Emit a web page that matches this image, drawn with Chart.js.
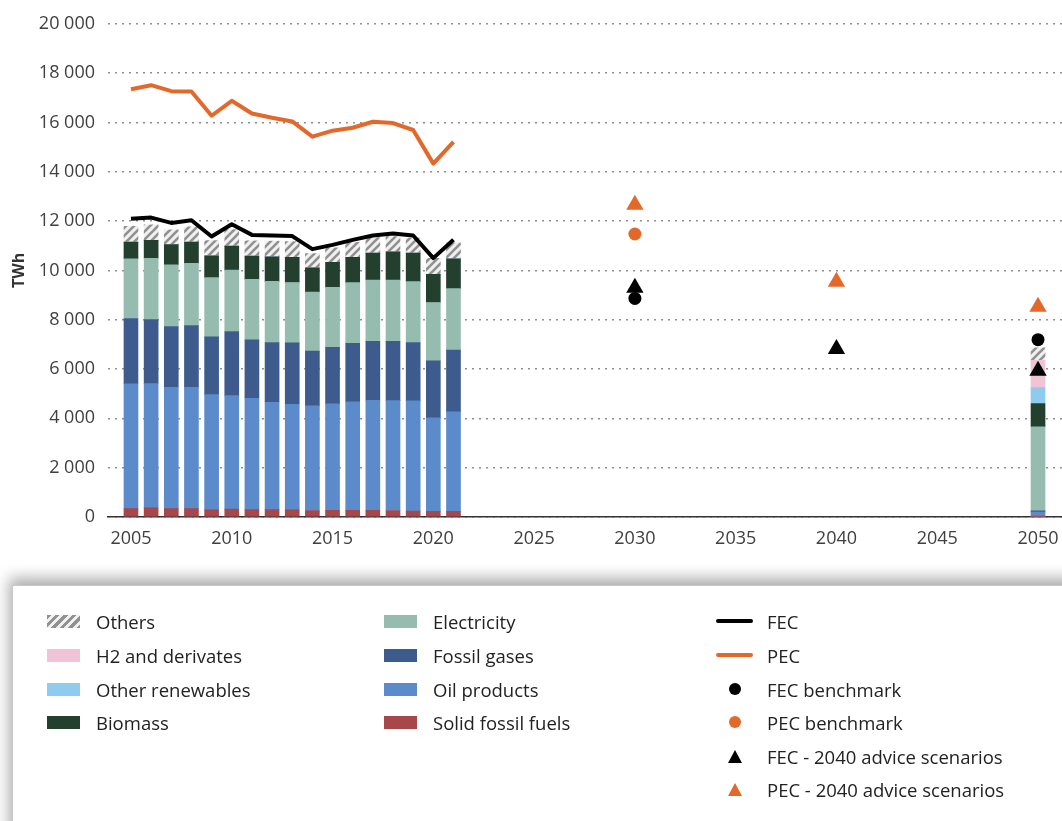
<!DOCTYPE html>
<html>
<head>
<meta charset="utf-8">
<script src="https://cdn.jsdelivr.net/npm/chart.js@4.4.1/dist/chart.umd.min.js"></script>
<style>
  body { margin: 0; width: 1062px; height: 821px; background: #fff; font-family: 'Open Sans', sans-serif; overflow: hidden; position: relative; }
  #chart-wrap { position: absolute; left: 0; top: 0; width: 1062px; height: 560px; }
  #legend { position: absolute; left: 12px; top: 585px; width: 1070px; height: 260px; background: #fff; border: 1px solid #c8c8c8; box-shadow: 0 -4px 14px 3px rgba(0,0,0,0.33); }
  .item { position: absolute; height: 24px; display: flex; align-items: center; font-size: 18.5px; color: #222; white-space: nowrap; }
  .swatch { width: 33px; height: 13px; margin-right: 16px; flex: none; }
  .mark { width: 37px; margin-right: 14px; display: flex; justify-content: center; align-items: center; flex: none; }
  .line { width: 37px; height: 4px; border-radius: 2px; }
  .dot { width: 12px; height: 12px; border-radius: 50%; }
  .tri { width: 0; height: 0; border-left: 7px solid transparent; border-right: 7px solid transparent; border-bottom: 13px solid; }
</style>
</head>
<body>
<div id="chart-wrap"><canvas id="energyChart" width="1062" height="560"></canvas></div>
<div id="legend"></div>
<script>
// --- Data (TWh) ---
const years = [2005, 2006, 2007, 2008, 2009, 2010, 2011, 2012, 2013, 2014, 2015, 2016, 2017, 2018, 2019, 2020, 2021, 2050];
const solidFossil = [340, 370, 340, 340, 303, 320, 300, 300, 290, 263, 275, 275, 275, 263, 242, 230, 230, 10];
const oilProducts = [5060, 5036, 4920, 4920, 4659, 4601, 4515, 4353, 4282, 4242, 4311, 4392, 4460, 4457, 4465, 3790, 4033, 190];
const fossilGases = [2648, 2602, 2465, 2505, 2343, 2602, 2370, 2424, 2492, 2222, 2291, 2371, 2384, 2399, 2370, 2310, 2505, 50];
const electricity = [2425, 2477, 2505, 2518, 2400, 2489, 2451, 2479, 2446, 2398, 2436, 2465, 2491, 2491, 2466, 2369, 2492, 3410];
const biomass = [672, 739, 820, 862, 889, 970, 942, 997, 1020, 984, 1010, 1022, 1090, 1145, 1157, 1139, 1213, 943];
const otherRenewables = [0, 0, 0, 0, 0, 0, 0, 0, 0, 0, 0, 0, 0, 0, 0, 0, 0, 647];
const h2Derivates = [0, 0, 0, 0, 0, 0, 0, 0, 0, 0, 0, 0, 0, 0, 0, 0, 0, 1107];
const others = [645, 622, 594, 620, 618, 675, 622, 632, 640, 578, 594, 618, 633, 619, 606, 647, 645, 500];

const histYears = [2005, 2006, 2007, 2008, 2009, 2010, 2011, 2012, 2013, 2014, 2015, 2016, 2017, 2018, 2019, 2020, 2021];
const fec = [12090, 12141, 11926, 12032, 11374, 11871, 11440, 11414, 11390, 10862, 11036, 11239, 11414, 11495, 11414, 10498, 11239];
const pec = [17349, 17511, 17269, 17253, 16271, 16877, 16364, 16190, 16040, 15422, 15665, 15786, 16028, 15975, 15693, 14331, 15208];

const fecBenchmarkYears = [2030, 2050];
const fecBenchmark = [8865, 7190];
const pecBenchmarkYears = [2030];
const pecBenchmark = [11475];
const adviceYears = [2030, 2040, 2050];
const fecAdvice = [9293, 6816, 5927];
const pecAdvice = [12663, 9535, 8525];

const xTicks = [2005, 2010, 2015, 2020, 2025, 2030, 2035, 2040, 2045, 2050];
const yTicks = [0, 2000, 4000, 6000, 8000, 10000, 12000, 14000, 16000, 18000, 20000];

// --- Colours ---
const C = {
    solid: '#a8474a', oil: '#5b8bcb', gas: '#3d5b8c', elec: '#96bcb0',
    bio: '#233f2e', otherRen: '#8ecbee', h2: '#f0c4d4', fec: '#000000', pec: '#e3692b'
};

function hatchPattern() {
    const c = document.createElement('canvas');
    c.width = 8; c.height = 8;
    const g = c.getContext('2d');
    g.fillStyle = '#f0f0f0';
    g.fillRect(0, 0, 8, 8);
    g.strokeStyle = '#919191';
    g.lineWidth = 2.6;
    g.beginPath();
    g.moveTo(0, 8); g.lineTo(8, 0);
    g.moveTo(-4, 4); g.lineTo(4, -4);
    g.moveTo(4, 12); g.lineTo(12, 4);
    g.stroke();
    return g.createPattern(c, 'repeat');
}

const ctx = document.getElementById('energyChart').getContext('2d');
Chart.defaults.font.family = "'Open Sans', sans-serif";
Chart.defaults.font.size = 18;
Chart.defaults.color = '#404040';

const pts = (xs, ys) => xs.map((x, i) => ({ x: x, y: ys[i] }));

function barSet(label, values, color) {
    return { type: 'bar', label, data: pts(years, values), backgroundColor: color,
             barThickness: 14, grouped: false, order: 2 };
}

function markerSet(label, xs, ys, color, style, stack) {
    return { type: 'scatter', label, data: pts(xs, ys), backgroundColor: color, borderWidth: 0,
             pointStyle: style, pointRadius: style === 'triangle' ? 10 : 6.5, pointHoverRadius: 10,
             stack, order: 0 };
}

const datasets = [
    barSet('Solid fossil fuels', solidFossil, C.solid),
    barSet('Oil products', oilProducts, C.oil),
    barSet('Fossil gases', fossilGases, C.gas),
    barSet('Electricity', electricity, C.elec),
    barSet('Biomass', biomass, C.bio),
    barSet('Other renewables', otherRenewables, C.otherRen),
    barSet('H2 and derivates', h2Derivates, C.h2),
    barSet('Others', others, hatchPattern()),
    { type: 'line', label: 'FEC', data: pts(histYears, fec), borderColor: C.fec, borderWidth: 4,
      pointRadius: 0, tension: 0, borderJoinStyle: 'round', stack: 'fec', order: 1 },
    { type: 'line', label: 'PEC', data: pts(histYears, pec), borderColor: C.pec, borderWidth: 4,
      pointRadius: 0, tension: 0, borderJoinStyle: 'round', stack: 'pec', order: 1 },
    markerSet('PEC benchmark', pecBenchmarkYears, pecBenchmark, C.pec, 'circle', 'pecB'),
    markerSet('PEC - 2040 advice scenarios', adviceYears, pecAdvice, C.pec, 'triangle', 'pecA'),
    markerSet('FEC benchmark', fecBenchmarkYears, fecBenchmark, C.fec, 'circle', 'fecB'),
    markerSet('FEC - 2040 advice scenarios', adviceYears, fecAdvice, C.fec, 'triangle', 'fecA')
];

new Chart(ctx, {
    type: 'bar',
    data: { datasets },
    options: {
        responsive: false,
        animation: false,
        layout: { autoPadding: false, padding: { top: 22, right: 0, bottom: 0, left: 0 } },
        plugins: { legend: { display: false }, tooltip: { enabled: false } },
        scales: {
            x: {
                type: 'linear',
                offset: false,
                min: 2003.86,
                max: 2051.19,
                afterBuildTicks: (s) => { s.ticks = xTicks.map(v => ({ value: v })); },
                afterFit: (s) => { s.height = 43; s.paddingLeft = 0; s.paddingRight = 0; },
                grid: { display: false },
                border: { display: true, color: '#333', width: 1.5 },
                ticks: { padding: 3, autoSkip: false, maxRotation: 0, callback: v => String(v) }
            },
            y: {
                stacked: true,
                min: 0,
                max: 20000,
                afterBuildTicks: (s) => { s.ticks = yTicks.map(v => ({ value: v })); },
                afterFit: (s) => { s.width = 108; },
                grid: { color: '#8f8f8f', lineWidth: 1.6, drawTicks: false },
                border: { display: false, dash: [2, 5] },
                ticks: { padding: 13, callback: v => String(v).replace(/\B(?=(\d{3})+(?!\d))/g, ' ') },
                title: { display: true, text: 'TWh', color: '#333', font: { size: 16, weight: 'bold' }, padding: { top: 10, bottom: 0 } }
            }
        }
    }
});

// --- HTML legend ---
const legendEl = document.getElementById('legend');
const rowsY = [35, 69, 103, 136, 170, 203];
const legendItems = [
    { col: 0, row: 0, label: 'Others', kind: 'hatch' },
    { col: 0, row: 1, label: 'H2 and derivates', kind: 'box', color: C.h2 },
    { col: 0, row: 2, label: 'Other renewables', kind: 'box', color: C.otherRen },
    { col: 0, row: 3, label: 'Biomass', kind: 'box', color: C.bio },
    { col: 1, row: 0, label: 'Electricity', kind: 'box', color: C.elec },
    { col: 1, row: 1, label: 'Fossil gases', kind: 'box', color: C.gas },
    { col: 1, row: 2, label: 'Oil products', kind: 'box', color: C.oil },
    { col: 1, row: 3, label: 'Solid fossil fuels', kind: 'box', color: C.solid },
    { col: 2, row: 0, label: 'FEC', kind: 'line', color: C.fec },
    { col: 2, row: 1, label: 'PEC', kind: 'line', color: C.pec },
    { col: 2, row: 2, label: 'FEC benchmark', kind: 'dot', color: C.fec },
    { col: 2, row: 3, label: 'PEC benchmark', kind: 'dot', color: C.pec },
    { col: 2, row: 4, label: 'FEC - 2040 advice scenarios', kind: 'tri', color: C.fec },
    { col: 2, row: 5, label: 'PEC - 2040 advice scenarios', kind: 'tri', color: C.pec }
];
const colX = [34, 371, 703];

legendItems.forEach(it => {
    const div = document.createElement('div');
    div.className = 'item';
    div.style.left = colX[it.col] + 'px';
    div.style.top = (rowsY[it.row] - 12) + 'px';
    let sw;
    if (it.kind === 'hatch') {
        sw = `<span class="swatch" style="background: repeating-linear-gradient(135deg, #919191 0 3px, #f0f0f0 3px 6px);"></span>`;
    } else if (it.kind === 'box') {
        sw = `<span class="swatch" style="background:${it.color}"></span>`;
    } else if (it.kind === 'line') {
        sw = `<span class="mark"><span class="line" style="background:${it.color}"></span></span>`;
    } else if (it.kind === 'dot') {
        sw = `<span class="mark"><span class="dot" style="background:${it.color}"></span></span>`;
    } else {
        sw = `<span class="mark"><span class="tri" style="border-bottom-color:${it.color}"></span></span>`;
    }
    div.innerHTML = sw + `<span>${it.label}</span>`;
    legendEl.appendChild(div);
});
</script>
</body>
</html>
